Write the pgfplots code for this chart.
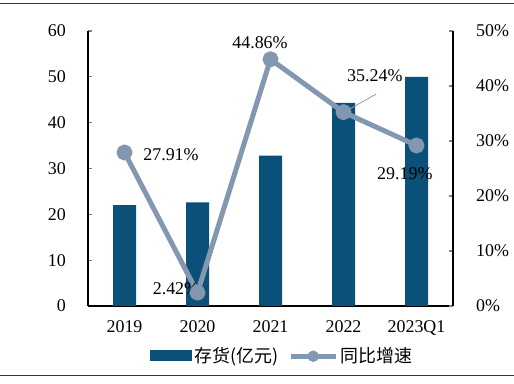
\documentclass[border=0pt]{standalone}
\usepackage{pgfplots}
\pgfplotsset{compat=1.18}
\usepackage{fontspec}
\setmainfont{Liberation Serif}
\newfontfamily\cjk{Noto Sans CJK SC}
\definecolor{barblue}{HTML}{0B5078}
\definecolor{linegray}{HTML}{8497B0}
\definecolor{rulenavy}{HTML}{1F3864}
\begin{document}
\fontsize{18}{21}\selectfont
\begin{tikzpicture}
\useasboundingbox (0,0) rectangle (514bp,384bp);
\draw[rulenavy, line width=1bp] (0,380bp) -- (514bp,380bp);
\draw[rulenavy, line width=1bp] (0,8bp) -- (514bp,8bp);
\begin{axis}[
  at={(88bp,78bp)}, anchor=south west,
  scale only axis, width=365bp, height=275bp,
  xmin=-0.5, xmax=4.5, ymin=0, ymax=60,
  ytick={0,10,...,60},
  xtick={0,1,2,3,4},
  xticklabels={2019,2020,2021,2022,2023Q1},
  axis x line*=bottom, axis y line*=left,
  x axis line style={-, line width=1.2bp},
  y axis line style={-, line width=1.2bp},
  major tick length=4bp,
  xtick style={draw=none},
  ytick style={line width=1.2bp},
  tick align=inside,
  yticklabel style={xshift=-16bp},
  xticklabel style={yshift=-8bp},
  /pgf/number format/assume math mode=true,
  ticklabel style={font=\fontsize{18}{21}\selectfont},
  legend style={at={(0.532,-0.135)}, anchor=north, draw=none, legend columns=2,
    font=\fontsize{18}{21}\selectfont, /tikz/every even column/.append style={column sep=8bp}},
  legend image code/.code={\fill[#1] (0,-5bp) rectangle (42bp,6bp);},
]
\addplot[ybar, bar width=23bp, fill=barblue, draw=none] coordinates {(0,22.0) (1,22.6) (2,32.8) (3,44.3) (4,50.0)};
\addlegendentry{\cjk 存货(亿元)}
\addlegendimage{legend image code/.code={\draw[linegray, line width=5bp] (0,0) -- (45bp,0); \fill[linegray] (22.5bp,0) circle (5.5bp);}}
\addlegendentry{\cjk 同比增速}
\end{axis}
\begin{axis}[
  at={(88bp,78bp)}, anchor=south west,
  scale only axis, width=365bp, height=275bp,
  xmin=-0.5, xmax=4.5, ymin=0, ymax=50,
  ytick={0,10,...,50},
  yticklabel={\pgfmathprintnumber{\tick}\%},
  axis x line=none, axis y line*=right,
  y axis line style={-, line width=1.2bp},
  major tick length=4bp,
  ytick style={line width=1.2bp},
  tick align=inside,
  yticklabel style={xshift=17bp, anchor=west},
  /pgf/number format/assume math mode=true,
  ticklabel style={font=\fontsize{18}{21}\selectfont},
]
\addplot[linegray, line width=5bp, line join=round, mark=*, mark size=5.5bp, mark options={solid, fill=linegray, draw=none}] coordinates {(0,27.91) (1,2.42) (2,44.86) (3,35.24) (4,29.19)};
\draw[gray!80, line width=0.8bp] (axis cs:3.034,35.45) -- (axis cs:3.445,38.5);
\node[font=\fontsize{18}{21}\selectfont] at (axis cs:0.637,27.45) {27.91\%};
\node[font=\fontsize{18}{21}\selectfont] at (axis cs:0.705,3.09) {2.42\%};
\node[font=\fontsize{18}{21}\selectfont] at (axis cs:1.856,47.8) {44.86\%};
\node[font=\fontsize{18}{21}\selectfont] at (axis cs:3.43,41.8) {35.24\%};
\node[font=\fontsize{18}{21}\selectfont] at (axis cs:3.84,24.0) {29.19\%};
\end{axis}
\end{tikzpicture}
\end{document}
